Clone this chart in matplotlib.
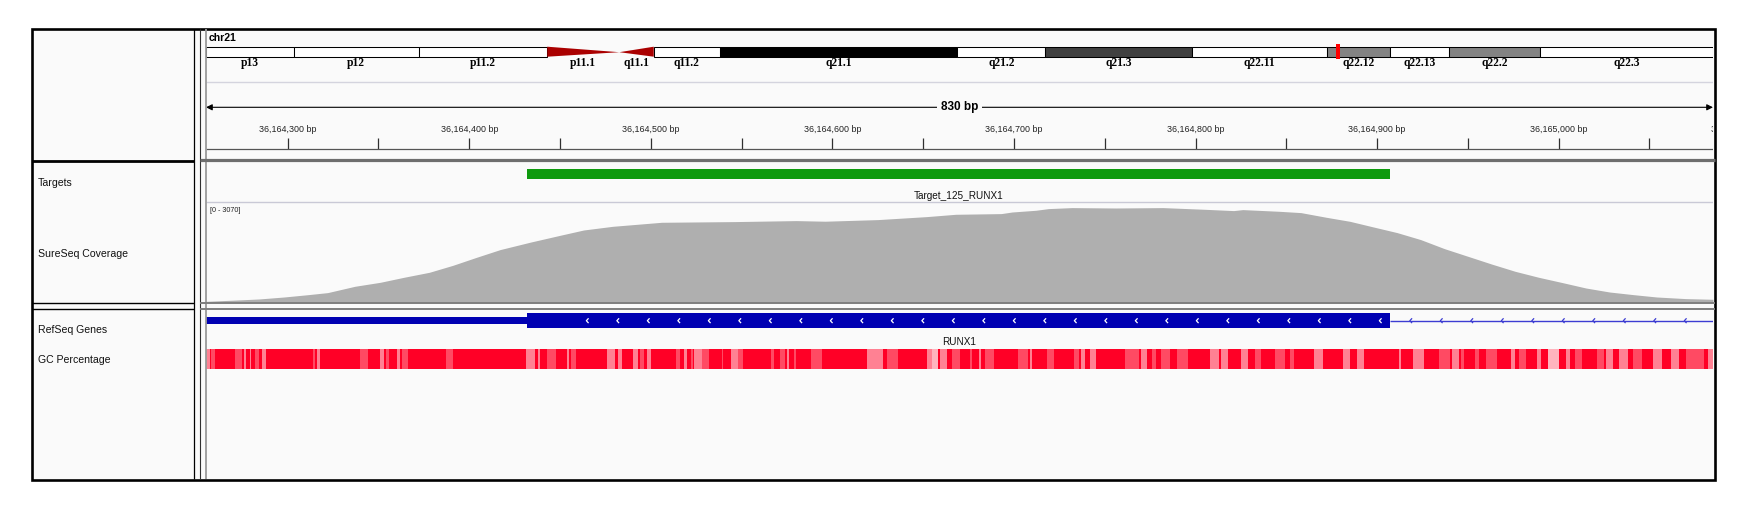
import matplotlib
matplotlib.use('Agg')
import numpy as np
from matplotlib import pyplot as plt
from matplotlib.patches import Rectangle, Polygon

# ---------------- data ----------------
chrom = 'chr21'
chrom_len = 48129895
band_names = ['p13', 'p12', 'p11.2', 'p11.1', 'q11.1', 'q11.2', 'q21.1', 'q21.2',
              'q21.3', 'q22.11', 'q22.12', 'q22.13', 'q22.2', 'q22.3']
band_starts = [0, 2800000, 6800000, 10900000, 13200000, 14300000, 16400000, 24000000,
               26800000, 31500000, 35800000, 37800000, 39700000, 42600000]
band_ends = band_starts[1:] + [chrom_len]
band_stains = ['gvar', 'stalk', 'gvar', 'acen', 'acen', 'gneg', 'gpos100', 'gneg',
               'gpos75', 'gneg', 'gpos50', 'gneg', 'gpos50', 'gneg']

view_start = 36164255
view_end = 36165085

target_name = 'Target_125_RUNX1'
target_start = 36164432
target_end = 36164907

cov_label = '[0 - 3070]'
cov_max = 3070
cov_pos = [36164255, 36164272, 36164284, 36164298, 36164311, 36164322, 36164337, 36164351,
           36164364, 36164378, 36164391, 36164404, 36164417, 36164434, 36164450, 36164463,
           36164479, 36164506, 36164546, 36164580, 36164596, 36164625, 36164652, 36164668,
           36164693, 36164699, 36164712, 36164719, 36164732, 36164756, 36164782, 36164805,
           36164821, 36164826, 36164846, 36164858, 36164872, 36164885, 36164898, 36164911,
           36164924, 36164937, 36164950, 36164963, 36164976, 36164989, 36165002, 36165015,
           36165028, 36165041, 36165054, 36165070, 36165085]
cov_val = [20, 62, 93, 155, 226, 291, 487, 611, 766, 921, 1138, 1386, 1625, 1861, 2068, 2233,
           2347, 2472, 2493, 2524, 2505, 2555, 2648, 2720, 2741, 2791, 2844, 2896, 2927, 2915,
           2927, 2875, 2834, 2865, 2813, 2772, 2627, 2502, 2326, 2152, 1935, 1656, 1417, 1178,
           952, 766, 602, 434, 310, 229, 155, 105, 84]

gene_name = 'RUNX1'
gene_start = 36160098
gene_end = 37376965
cds_start = 36164432
cds_end = 36164907

# GC percentage track: lighter stripes (start, end, level 1=medium 2=light 3=very light)
gc_start = [255, 258, 271, 276, 279, 282, 286, 314, 316, 340, 351, 354, 360, 363, 387, 431,
            438, 443, 454, 456, 476, 482, 490, 494, 498, 514, 518, 522, 524, 528, 539, 544,
            548, 566, 571, 575, 579, 588, 619, 630, 652, 655, 659, 666, 676, 681, 684, 702,
            709, 718, 733, 737, 742, 761, 770, 776, 781, 790, 808, 814, 825, 833, 844, 852,
            865, 881, 889, 912, 920, 934, 941, 946, 954, 960, 974, 978, 988, 994, 1004, 1009,
            1021, 1026, 1033, 1041, 1052, 1062, 1070, 1082]
gc_end = [257, 260, 275, 277, 280, 284, 288, 315, 318, 344, 353, 356, 362, 366, 391, 436,
          439, 448, 455, 459, 480, 484, 493, 496, 500, 516, 520, 523, 528, 532, 540, 548,
          551, 568, 574, 576, 580, 594, 628, 636, 655, 658, 663, 670, 677, 682, 689, 708,
          710, 722, 736, 739, 745, 769, 773, 778, 786, 796, 813, 818, 829, 836, 849, 854,
          870, 885, 893, 913, 926, 940, 945, 948, 956, 966, 976, 982, 990, 1000, 1006, 1013,
          1025, 1030, 1038, 1046, 1057, 1066, 1080, 1085]
gc_level = [2, 1, 1, 2, 2, 1, 2, 1, 2, 1, 2, 1, 2, 1, 1, 2,
            2, 1, 2, 1, 2, 2, 2, 1, 2, 1, 2, 1, 2, 1, 1, 2,
            1, 1, 1, 2, 1, 1, 2, 1, 2, 3, 2, 1, 1, 2, 1, 1,
            2, 1, 1, 2, 2, 1, 2, 1, 1, 1, 2, 2, 2, 1, 1, 1,
            2, 2, 2, 2, 2, 1, 2, 1, 1, 1, 2, 1, 2, 3, 2, 1,
            1, 2, 2, 1, 2, 2, 1, 2]
gc_offset = 36164000

track_names = ['Targets', 'SureSeq Coverage', 'RefSeq Genes', 'GC Percentage']

# ---------------- figure ----------------
W, H = 1752, 515
plt.rcParams['font.family'] = ['Liberation Sans', 'DejaVu Sans']
fig = plt.figure(figsize=(W / 100, H / 100), dpi=100)
fig.patch.set_facecolor('white')

BG = '#FAFAFA'
DX0, DX1 = 206, 1713


def box(x0, y0, x1, y1):
    a = fig.add_axes([x0 / W, 1 - y1 / H, (x1 - x0) / W, (y1 - y0) / H])
    a.set_facecolor('none')
    a.axis('off')
    return a


lay = box(0, 0, W, H)
lay.set_xlim(0, W)
lay.set_ylim(H, 0)
lay.add_patch(Rectangle((32, 29), 1683, 450, facecolor=BG, edgecolor='none'))

# ideogram
ideo = box(DX0, 40, DX1, 70)
ideo.set_xlim(0, chrom_len)
ideo.set_ylim(70, 40)
stain_col = {'gvar': 'white', 'stalk': 'white', 'gneg': 'white', 'gpos100': 'black',
             'gpos75': '#404040', 'gpos50': '#838383'}
for name, s, e, st in zip(band_names, band_starts, band_ends, band_stains):
    if st == 'acen':
        if name.startswith('p'):
            pts = [(s, 46.7), (s, 56.7), (e, 52.2)]
        else:
            pts = [(s, 52.2), (e, 46.7), (e, 56.7)]
        ideo.add_patch(Polygon(pts, closed=True, facecolor='#AA0000', edgecolor='none'))
    else:
        ideo.add_patch(Rectangle((s, 46.7), e - s, 10, facecolor=stain_col[st],
                                 edgecolor='black', lw=0.75))
    ideo.text((s + e) / 2, 63, name, ha='center', va='center', fontsize=8.3,
              family=['Liberation Serif'], fontweight='bold', clip_on=False)
mw = 4 * chrom_len / (DX1 - DX0)
ideo.add_patch(Rectangle(((view_start + view_end) / 2 - mw / 2, 44.3), mw, 15,
                         facecolor='#FF0000', edgecolor='none'))

# ruler, targets, genes, gc
ax = box(DX0, 77, DX1, 479)
ax.set_xlim(view_start, view_end)
ax.set_ylim(479, 77)
ax.hlines(81.7, view_start, view_end, color='#D4D4DE', lw=1)
ax.annotate('', xy=(view_start, 107.3), xytext=(view_end, 107.3),
            arrowprops=dict(arrowstyle='<|-|>', color='black', lw=0.8,
                            mutation_scale=9, shrinkA=0, shrinkB=0))
ax.text((view_start + view_end) / 2, 107.3, f'{view_end - view_start} bp', ha='center',
        va='center', fontsize=8.5, fontweight='bold',
        bbox=dict(facecolor=BG, edgecolor='none', pad=2.5))
for t in np.arange(np.ceil(view_start / 50) * 50, view_end + 100, 50):
    if t <= view_end:
        ax.vlines(t, 138, 148.5, color='#303030', lw=0.9)
    if t % 100 == 0:
        ax.text(t, 129, f'{int(t):,} bp', ha='center', va='center', fontsize=6.4,
                color='#222222', clip_on=True)
ax.hlines(148.5, view_start, view_end, color='#555555', lw=0.9)

ax.add_patch(Rectangle((target_start, 169), target_end - target_start, 10,
                       facecolor='#0E9A0E', edgecolor='none'))
ax.text((target_start + target_end) / 2, 195.7, target_name, ha='center', va='center',
        fontsize=7.2, color='#111111')
ax.hlines(202.3, view_start, view_end, color='#C9C9D6', lw=1)

# gene
blue = '#0000B2'
ax.add_patch(Rectangle((gene_start, 316.7), cds_start - gene_start, 7.6,
                       facecolor=blue, edgecolor='none'))
ax.add_patch(Rectangle((cds_start, 313.3), cds_end - cds_start, 14.4,
                       facecolor=blue, edgecolor='none'))
ax.hlines(320.7, cds_end, gene_end, color='#3C3CD2', lw=1)
px_bp = (DX1 - DX0) / (view_end - view_start)
step = 30.5 / px_bp
dx = 2.2 / px_bp
x = cds_start + 59 / px_bp
while x < view_end:
    c = 'white' if x < cds_end else '#3C3CD2'
    ax.plot([x + dx, x, x + dx], [318.3, 320.7, 323.1], color=c, lw=0.9,
            solid_capstyle='butt')
    x += step
ax.text((view_start + view_end) / 2, 342, gene_name, ha='center', va='center',
        fontsize=7.2, color='#111111')

# gc percentage
ax.add_patch(Rectangle((view_start, 349), view_end - view_start, 20,
                       facecolor='#FF0026', edgecolor='none'))
gc_cols = {1: '#FF4A63', 2: '#FF8193', 3: '#FFB4BE'}
for s, e, lv in zip(gc_start, gc_end, gc_level):
    ax.add_patch(Rectangle((gc_offset + s, 349), e - s, 20,
                           facecolor=gc_cols[lv], edgecolor='none'))

# coverage
cov = box(DX0, 203, DX1, 302)
cov.set_xlim(view_start, view_end)
cov.set_ylim(0, cov_max)
cov.fill_between(cov_pos, cov_val, 0, color='#AFAFAF', lw=0)

# labels
lay.text(209, 38, chrom, fontsize=7.6, fontweight='bold', va='center', ha='left')
lay.text(210.5, 210.7, cov_label, fontsize=5.2, va='center', ha='left', color='#222222')
for name, y in zip(track_names, [182.7, 254, 330, 360]):
    lay.text(37.5, y, name, fontsize=7.6, va='center', ha='left', color='#111111')

# frame lines
fr = box(0, 0, W, H)
fr.set_xlim(0, W)
fr.set_ylim(H, 0)
fr.vlines(193.5, 29, 479, color='black', lw=0.9)
fr.vlines(199.5, 29, 479, color='#303030', lw=0.8)
fr.vlines(205.7, 29, 479, color='#9A9A9A', lw=1.3)
fr.hlines(160.8, 32, 193.5, color='black', lw=2)
fr.hlines(160.0, 199.5, 1715, color='#6E6E6E', lw=2.3)
fr.hlines([303.0, 308.8], 32, 193.5, color='black', lw=1)
fr.hlines([302.8, 308.8], 199.5, 1715, color='#7E7E7E', lw=1.4)
fr.add_patch(Rectangle((32, 29), 1683, 450.5, fill=False, edgecolor='black', lw=1.9))

fig.savefig('out.png', dpi=100, facecolor='white')
